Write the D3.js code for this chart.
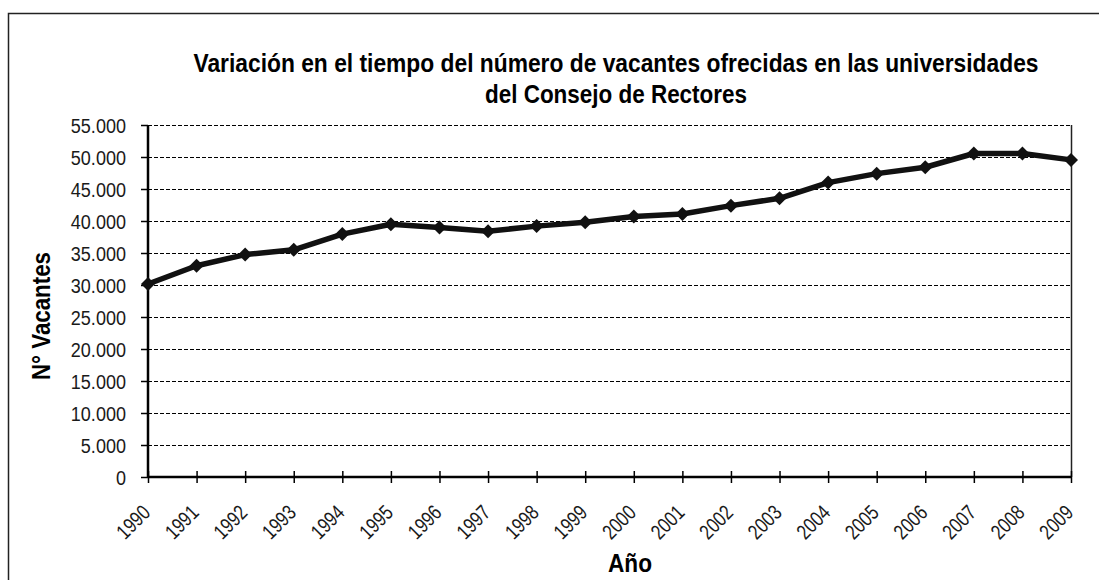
<!DOCTYPE html>
<html>
<head>
<meta charset="utf-8">
<script src="https://cdn.jsdelivr.net/npm/d3@7/dist/d3.min.js"></script>
<style>
  body { margin: 0; background: #fff; }
  svg text { font-family: "Liberation Sans", Arial, sans-serif; fill: #000; }
</style>
</head>
<body>
<svg id="chart" width="1099" height="580"></svg>
<script>
    var years = [1990, 1991, 1992, 1993, 1994, 1995, 1996, 1997, 1998, 1999,
                 2000, 2001, 2002, 2003, 2004, 2005, 2006, 2007, 2008, 2009];
    var vacantes = [30150, 33000, 34750, 35500, 37950, 39500, 39000, 38400, 39200, 39800,
                    40700, 41100, 42400, 43550, 46000, 47400, 48400, 50550, 50550, 49550];
    var yTicks = [0, 5000, 10000, 15000, 20000, 25000, 30000, 35000, 40000, 45000, 50000, 55000];
    var titleLines = ["Variación en el tiempo del número de vacantes ofrecidas en las universidades",
                      "del Consejo de Rectores"];

    var svg = d3.select("#chart"),
        plotL = 148, plotR = 1071, plotT = 125, plotB = 477,
        narrow = 0.86;   // horizontal squeeze to mimic a narrow font

    // outer chart frame (only top/left fall inside the picture)
    svg.append("rect")
        .attr("x", 8.5).attr("y", 13.5)
        .attr("width", 1200).attr("height", 700)
        .attr("fill", "none").attr("stroke", "#222").attr("stroke-width", 1.5);

    var x = d3.scalePoint().domain(years).range([plotL, plotR]);
    var y = d3.scaleLinear().domain([0, 55000]).range([plotB, plotT]);

    var fmt = function (v) { return v === 0 ? "0" : d3.format(",")(v).replace(/,/g, "."); };

    // gridlines
    svg.append("g").selectAll("line")
        .data(yTicks.filter(function (d) { return d > 0; }))
        .enter().append("line")
        .attr("x1", plotL).attr("x2", plotR)
        .attr("y1", function (d) { return y(d) + 0.5; })
        .attr("y2", function (d) { return y(d) + 0.5; })
        .attr("stroke", "#000").attr("stroke-width", 1)
        .attr("stroke-dasharray", "4,2");

    // right border of plot
    svg.append("line")
        .attr("x1", plotR + 0.5).attr("x2", plotR + 0.5)
        .attr("y1", plotT).attr("y2", plotB)
        .attr("stroke", "#222").attr("stroke-width", 1.5);

    // y axis
    var yAxis = svg.append("g")
        .attr("transform", "translate(" + plotL + ",0)")
        .call(d3.axisLeft(y).tickValues(yTicks).tickFormat(fmt).tickSize(7).tickPadding(6));
    yAxis.select(".domain").attr("stroke", "#000").attr("stroke-width", 2.5)
        .attr("d", "M0," + plotT + "V" + plotB);
    yAxis.selectAll(".tick line").attr("stroke", "#000").attr("stroke-width", 1.5);
    yAxis.selectAll(".tick text")
        .attr("font-size", 21)
        .attr("x", -22 / narrow)
        .attr("dy", "0.36em")
        .attr("transform", "scale(" + narrow + ",1)")
        .style("fill", "#1a1a1a");

    // x axis
    var xAxis = svg.append("g")
        .attr("transform", "translate(0," + plotB + ")")
        .call(d3.axisBottom(x).tickSize(6).tickSizeOuter(0));
    xAxis.select(".domain").attr("stroke", "#000").attr("stroke-width", 2.5)
        .attr("d", "M" + plotL + ",0H" + plotR);
    xAxis.selectAll(".tick line").attr("stroke", "#000").attr("stroke-width", 1.5)
        .attr("y1", -6).attr("y2", 6);
    xAxis.selectAll(".tick text")
        .attr("font-size", 21)
        .attr("text-anchor", "end")
        .attr("dy", 0)
        .attr("y", 0).attr("x", 0)
        .attr("transform", "translate(3,37) rotate(-45) scale(0.8,1)")
        .style("fill", "#1a1a1a");

    // line
    var line = d3.line()
        .x(function (d, i) { return x(years[i]); })
        .y(function (d) { return y(d); });

    svg.append("path")
        .datum(vacantes)
        .attr("d", line)
        .attr("fill", "none")
        .attr("stroke", "#111")
        .attr("stroke-width", 5.5)
        .attr("stroke-linejoin", "round");

    svg.append("g").selectAll("path")
        .data(vacantes)
        .enter().append("path")
        .attr("d", "M0,-7L7,0L0,7L-7,0Z")
        .attr("transform", function (d, i) { return "translate(" + x(years[i]) + "," + y(d) + ")"; })
        .attr("fill", "#111");

    // title
    var titleWidths = [845, 262];
    svg.append("g").selectAll("text")
        .data(titleLines)
        .enter().append("text")
        .attr("x", 616)
        .attr("y", function (d, i) { return 72 + i * 31; })
        .attr("text-anchor", "middle")
        .attr("font-size", 25).attr("font-weight", "bold")
        .attr("textLength", function (d, i) { return titleWidths[i]; })
        .attr("lengthAdjust", "spacingAndGlyphs")
        .text(function (d) { return d; });

    // axis titles
    svg.append("text")
        .attr("transform", "translate(50,316) rotate(-90)")
        .attr("text-anchor", "middle")
        .attr("font-size", 25).attr("font-weight", "bold")
        .attr("textLength", 128).attr("lengthAdjust", "spacingAndGlyphs")
        .text("N° Vacantes");

    svg.append("text")
        .attr("x", 630).attr("y", 572)
        .attr("text-anchor", "middle")
        .attr("font-size", 25).attr("font-weight", "bold")
        .attr("textLength", 44).attr("lengthAdjust", "spacingAndGlyphs")
        .text("Año");
</script>
</body>
</html>
